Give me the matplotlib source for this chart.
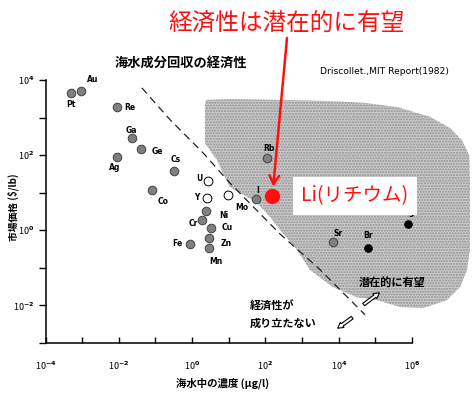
import numpy as np
import matplotlib
matplotlib.use("Agg")
import matplotlib.pyplot as plt
from matplotlib.patches import Polygon, FancyArrowPatch

plt.rcParams['font.family'] = ['Noto Sans CJK JP', 'DejaVu Sans']
plt.rcParams['mathtext.default'] = 'bf'

# elements: log10 concentration in seawater (ug/l), log10 market price ($/lb)
elements = ['Au', 'Pt', 'Re', 'Ga', 'Ge', 'Ag', 'Cs', 'Co', 'U', 'Y', 'Mo',
            'Ni', 'Cr', 'Cu', 'Zn', 'Fe', 'Mn', 'I', 'Rb', 'Sr', 'Br', 'Mg']
conc_log = [-3.03, -3.31, -2.06, -1.65, -1.39, -2.06, -0.49, -1.09, 0.44, 0.41, 0.99,
            0.38, 0.26, 0.52, 0.47, -0.06, 0.47, 1.74, 2.04, 3.84, 4.79, 5.88]
price_log = [3.72, 3.65, 3.29, 2.45, 2.16, 1.94, 1.59, 1.07, 1.32, 0.87, 0.94,
             0.52, 0.27, 0.07, -0.21, -0.36, -0.48, 0.82, 1.92, -0.30, -0.46, 0.17]
kind = ['g', 'g', 'g', 'g', 'g', 'g', 'g', 'g', 'w', 'w', 'w',
        'g', 'g', 'g', 'g', 'g', 'g', 'g', 'g', 'g', 'k', 'k']
# label offsets in pixels
label_dx = [12, 0, 13, 0, 16, -2, 2, 11, -9, -10, 13, 18, -8, 16, 17, -13, 7, 2, 2, 5, 0, 0]
label_dy = [11, -11, -1, 8, -2, -10, 11, -11, 2, 0, -13, -5, -3, 0, -5, 0, -13, 9, 10, 8, 12, 11]

li_conc_log, li_price_log = 2.19, 0.91

# "potentially promising" region boundary (log10 conc, log10 price)
region_x = [0.38, 1.03, 2.40, 3.76, 4.72, 5.59, 6.49, 7.04, 7.36, 7.56, 7.58, 7.58, 7.50,
            7.31, 6.95, 6.30, 5.67, 5.05, 4.49, 3.84, 3.22, 2.86, 2.40, 2.13, 1.77, 1.50,
            1.03, 0.84, 0.68, 0.35, 0.35]
region_y = [3.47, 3.49, 3.47, 3.44, 3.39, 3.28, 3.02, 2.72, 2.40, 2.00, 1.34, -0.52, -1.06,
            -1.51, -1.86, -2.07, -2.04, -1.86, -1.78, -1.51, -1.06, -0.52, 0.01, 0.35, 0.73,
            0.89, 1.15, 1.52, 1.87, 2.32, 3.33]

# economic break-even line
line_x = [-1.37, -0.60, 0.30, 1.03, 2.40, 3.44, 4.72]
line_y = [3.79, 2.94, 2.06, 1.26, -0.10, -1.00, -2.25]

x_ticks = list(range(-4, 7))
y_ticks = list(range(-3, 5))

fig = plt.figure(figsize=(4.73, 3.96), dpi=100)
ax = fig.add_axes([45.5 / 473, 53 / 396, 426.5 / 473, 263 / 396])
ax.set_xscale('log')
ax.set_yscale('log')
ax.set_xlim(1e-4, 10 ** (-4 + 426.5 / 36.65))
ax.set_ylim(1e-3, 1e4)

poly = Polygon(np.column_stack([10.0 ** np.array(region_x), 10.0 ** np.array(region_y)]),
               closed=True, facecolor='#cacaca', edgecolor='#909090', hatch='......',
               linewidth=0, zorder=1)
ax.add_patch(poly)

ax.plot(10.0 ** np.array(line_x), 10.0 ** np.array(line_y), color='#222222', lw=0.9,
        linestyle=(0, (6, 4)), zorder=2)

styles = {'g': dict(c='#808080', edgecolors='#404040', s=38),
          'w': dict(c='white', edgecolors='black', s=40),
          'k': dict(c='black', edgecolors='black', s=30)}
for k, st in styles.items():
    idx = [i for i, kk in enumerate(kind) if kk == k]
    ax.scatter([10 ** conc_log[i] for i in idx], [10 ** price_log[i] for i in idx],
               linewidths=0.7, zorder=3, **st)

for name, cx, cy, dx, dy in zip(elements, conc_log, price_log, label_dx, label_dy):
    ax.annotate(name, (10 ** cx, 10 ** cy), xytext=(dx, dy), textcoords='offset pixels',
                ha='center', va='center', fontsize=5.5, fontweight='bold',
                family='DejaVu Sans', zorder=3)

ax.scatter([10 ** li_conc_log], [10 ** li_price_log], s=120, c='#ff1010', zorder=6,
           linewidths=0)

ax.text(10 ** 4.44, 10 ** 0.91, 'Li(リチウム)', color='#ff1010', fontsize=14,
        ha='center', va='center', zorder=5,
        bbox=dict(boxstyle='square,pad=0.45', fc='white', ec='none'))

# axes styling
for s in ['top', 'right']:
    ax.spines[s].set_visible(False)
ax.spines['left'].set_bounds(1e-3, 1e4)
ax.spines['bottom'].set_bounds(1e-4, 1e6)
for s in ['left', 'bottom']:
    ax.spines[s].set_linewidth(1.1)
    ax.spines[s].set_zorder(4)
ax.set_xticks([10.0 ** e for e in x_ticks])
ax.set_xticklabels(['10$^{%d}$' % e if e % 2 == 0 else '' for e in x_ticks])
ax.set_yticks([10.0 ** e for e in y_ticks])
ax.set_yticklabels(['10$^{%d}$' % e if (e % 2 == 0 and e > -3) else '' for e in y_ticks])
ax.minorticks_off()
ax.tick_params(axis='x', direction='in', length=4, width=1, labelsize=6.5, pad=12)
ax.tick_params(axis='y', direction='out', length=5, width=1, labelsize=6.5, pad=3)
ax.patch.set_alpha(0)

# texts
fig.text(287 / 473, 1 - 23 / 396, '経済性は潜在的に有望', color='#ff1010', fontsize=17,
         ha='center', va='center')
fig.text(181 / 473, 1 - 63 / 396, '海水成分回収の経済性', fontsize=9.5, fontweight='bold',
         ha='center', va='center')
fig.text(384 / 473, 1 - 72 / 396, 'Driscollet.,MIT Report(1982)', fontsize=6.6,
         family='DejaVu Sans', ha='center', va='center')
fig.text(13 / 473, 1 - 207 / 396, '市場価格 ($/lb)', fontsize=7, fontweight='bold',
         rotation=90, ha='center', va='center')
fig.text(223 / 473, 1 - 383 / 396, '海水中の濃度 (μg/l)', fontsize=7.5, fontweight='bold',
         ha='center', va='center')

ax.text(10 ** 1.58, 10 ** -2.25, '経済性が\n成り立たない', fontsize=8, fontweight='bold',
        ha='left', va='center', linespacing=1.3, zorder=5)
ax.text(10 ** 5.45, 10 ** -1.40, '潜在的に有望', fontsize=8, fontweight='bold',
        ha='center', va='center', zorder=5)

for (x0, y0), (x1, y1) in [((4.62, -2.02), (5.17, -1.62)), ((4.43, -2.28), (3.91, -2.65))]:
    ar = FancyArrowPatch((10 ** x0, 10 ** y0), (10 ** x1, 10 ** y1),
                         arrowstyle='simple,head_length=4,head_width=4.5,tail_width=2.2',
                         fc='white', ec='black', lw=0.8, zorder=5, mutation_scale=1)
    ax.add_patch(ar)

# red callout arrow
ax.annotate('', xy=(10 ** li_conc_log, 10 ** li_price_log),
            xytext=(287 / 473, 1 - 38 / 396), textcoords='figure fraction',
            arrowprops=dict(arrowstyle='->,head_length=0.6,head_width=0.35', color='#ff1010',
                            lw=1.8, shrinkA=0, shrinkB=7), zorder=6)

fig.savefig('out.png', dpi=100)
